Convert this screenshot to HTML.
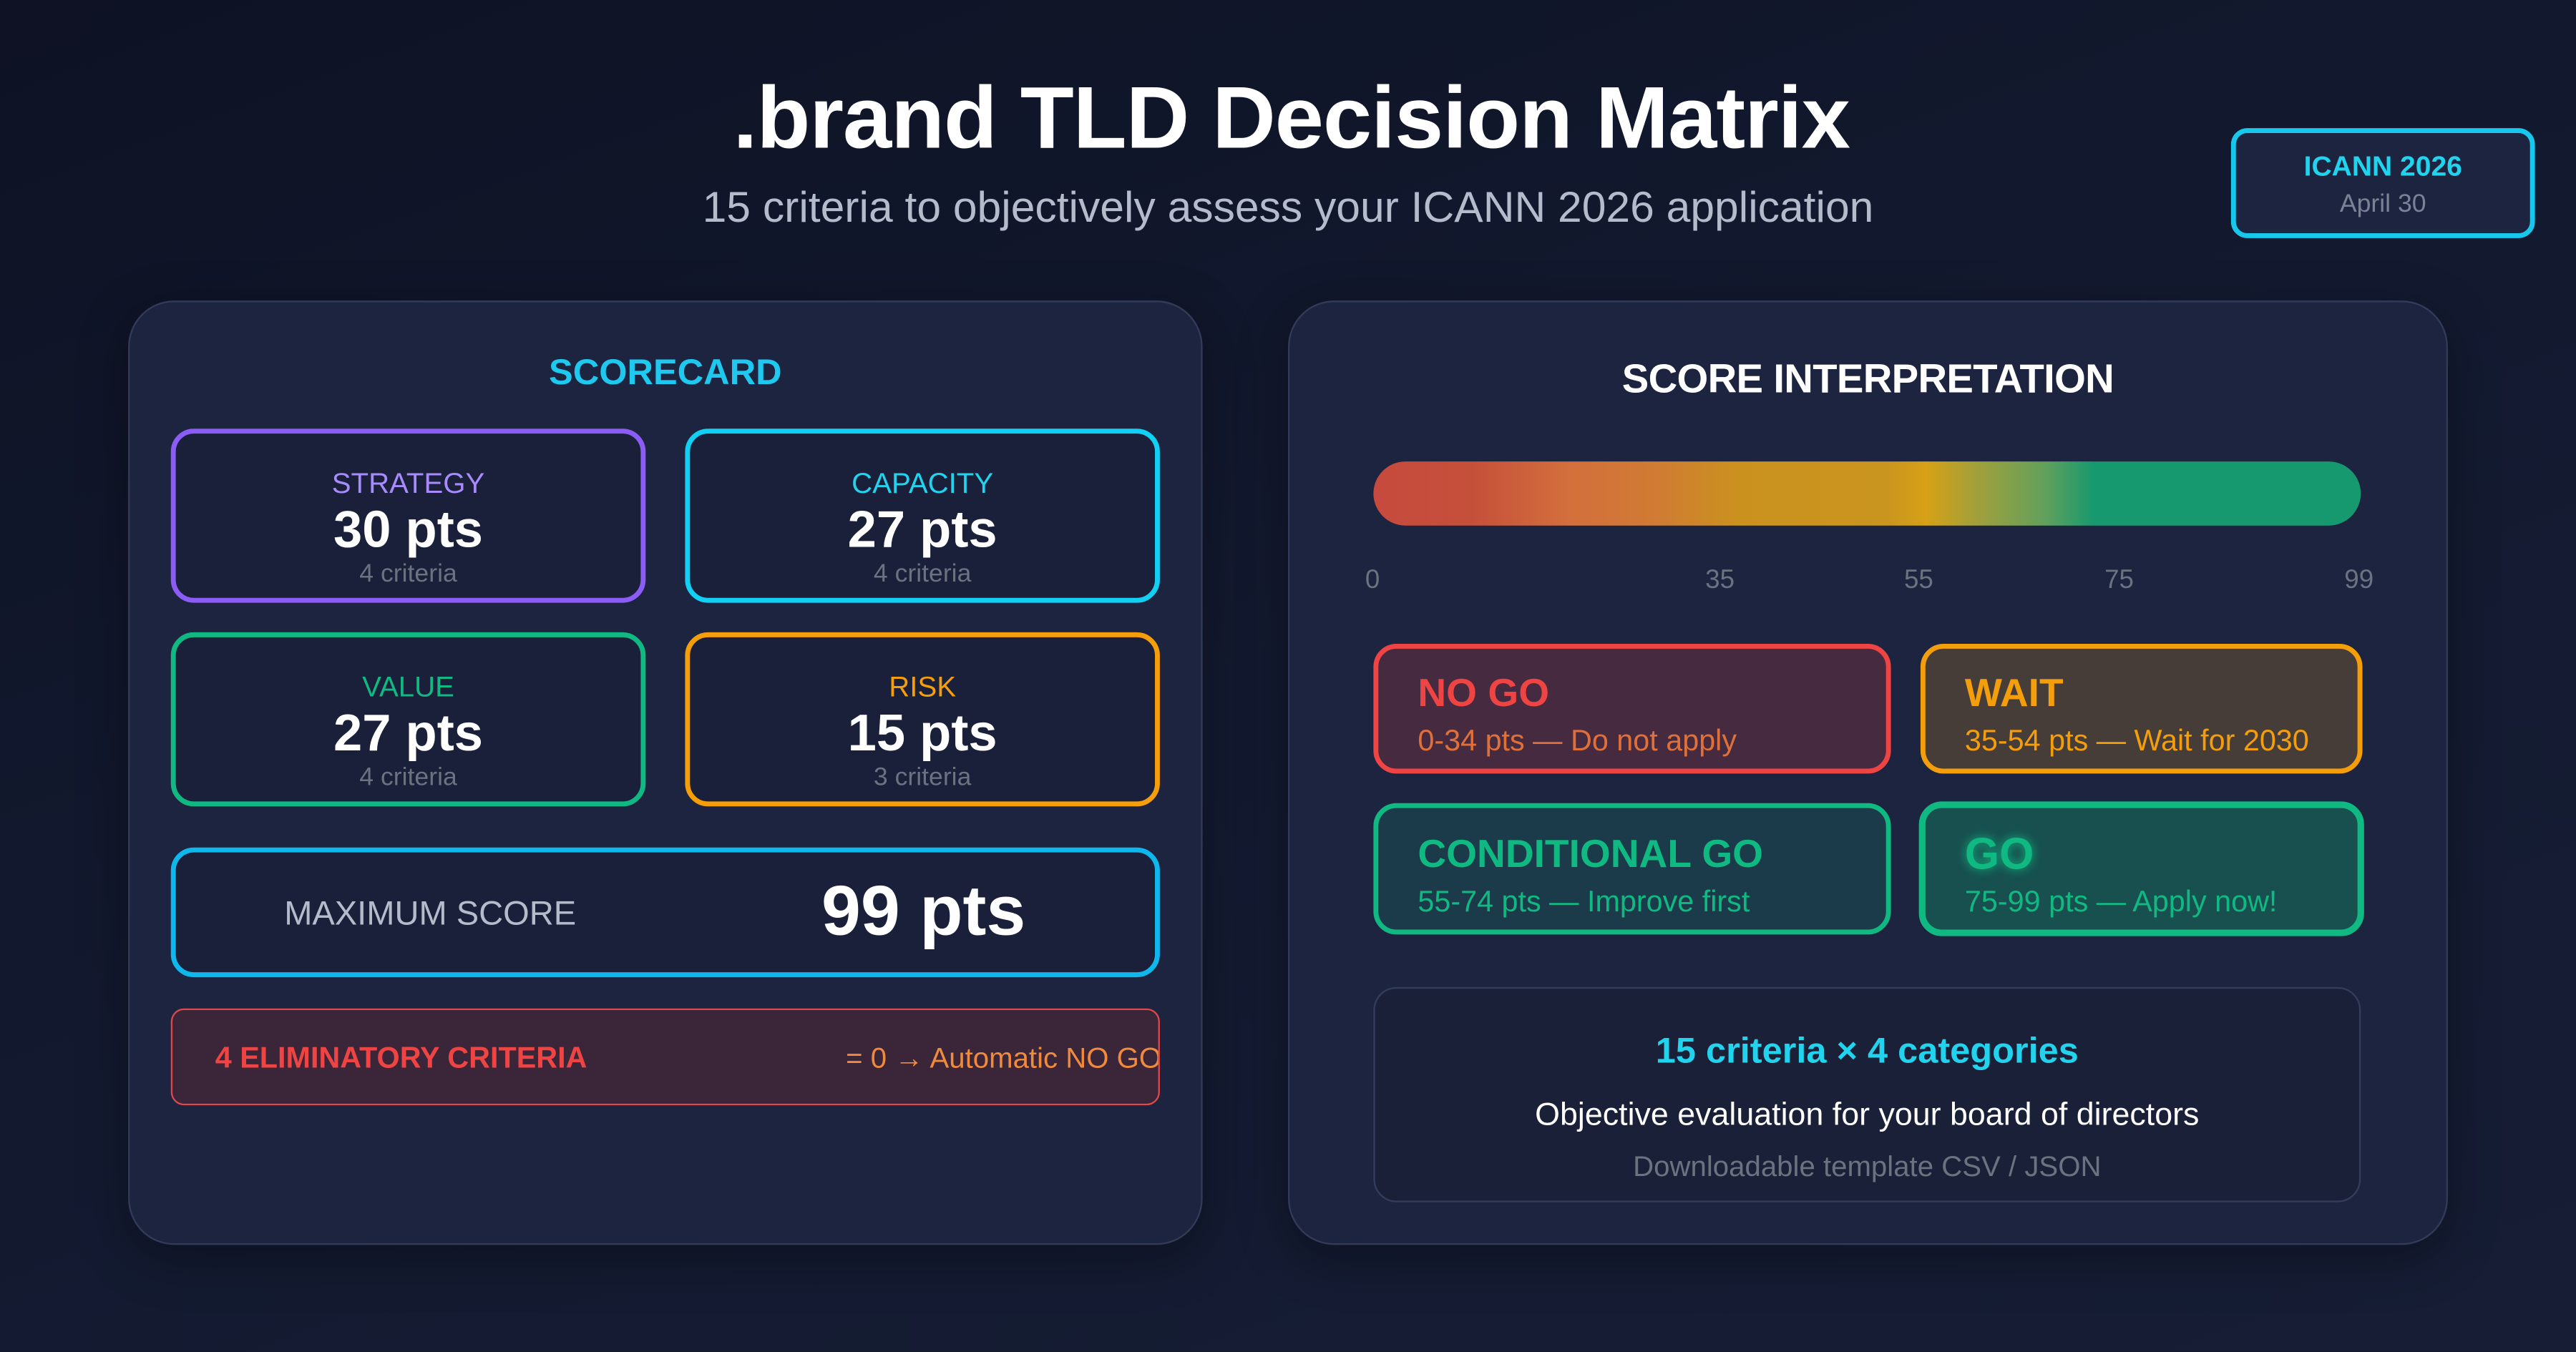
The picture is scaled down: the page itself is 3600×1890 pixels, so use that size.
<!DOCTYPE html>
<html><head><meta charset="utf-8"><style>
*{margin:0;padding:0;box-sizing:border-box}
html,body{width:3600px;height:1890px;overflow:hidden;background:#0f1426}
#w{position:absolute;left:0;top:0;width:1568px;height:823px;transform:scale(2.29592);transform-origin:0 0;
background:linear-gradient(160deg,#0e1224 0%,#131a30 50%,#161d35 100%);font-family:"Liberation Sans",sans-serif;color:#fff}
.a{position:absolute}
.c{position:absolute;text-align:center;white-space:nowrap}
.t{position:absolute;white-space:nowrap}
.panel{position:absolute;background:#1c2440;border:1.5px solid #323b58;border-radius:28px;box-shadow:0 8px 30px rgba(0,0,0,.35)}
.box{position:absolute;border:3px solid;border-radius:14px;background:#1a1f3a}
</style></head><body><div id="w">
<div class="c" style="left:0;width:1572px;top:42px;font-size:53.5px;font-weight:bold;letter-spacing:-0.5px">.brand TLD Decision Matrix</div>
<div class="c" style="left:0;width:1568px;top:111px;font-size:26.4px;color:#b4bccb">15 criteria to objectively assess your ICANN 2026 application</div>
<div class="a" style="left:1358px;top:78px;width:185px;height:67px;border:3px solid #18c8ec;border-radius:10px;background:#1c2440"></div>
<div class="c" style="left:1358px;width:185px;top:92px;font-size:17px;color:#22d3ee;font-weight:bold">ICANN 2026</div>
<div class="c" style="left:1358px;width:185px;top:116px;font-size:15.5px;color:#7b8296">April 30</div>

<div class="panel" style="left:78px;top:183px;width:654px;height:575px"></div>
<div class="c" style="left:78px;width:654px;top:214px;font-size:22px;color:#1ec8ee;font-weight:bold">SCORECARD</div>

<div class="box" style="left:104px;top:261px;width:289px;height:106px;border-color:#8b5cf6"></div>
<div class="box" style="left:417px;top:261px;width:289px;height:106px;border-color:#12d0f4"></div>
<div class="box" style="left:104px;top:385px;width:289px;height:106px;border-color:#10b981"></div>
<div class="box" style="left:417px;top:385px;width:289px;height:106px;border-color:#f59e0b"></div>
<div class="c" style="left:104px;width:289px;top:284px;font-size:17.5px;color:#a78bfa">STRATEGY</div>
<div class="c" style="left:104px;width:289px;top:304px;font-size:31.5px;font-weight:bold">30 pts</div>
<div class="c" style="left:104px;width:289px;top:341px;font-size:15.5px;color:#6b7280">4 criteria</div>
<div class="c" style="left:417px;width:289px;top:284px;font-size:17.5px;color:#22d3ee">CAPACITY</div>
<div class="c" style="left:417px;width:289px;top:304px;font-size:31.5px;font-weight:bold">27 pts</div>
<div class="c" style="left:417px;width:289px;top:341px;font-size:15.5px;color:#6b7280">4 criteria</div>
<div class="c" style="left:104px;width:289px;top:408px;font-size:17.5px;color:#10b981">VALUE</div>
<div class="c" style="left:104px;width:289px;top:428px;font-size:31.5px;font-weight:bold">27 pts</div>
<div class="c" style="left:104px;width:289px;top:465px;font-size:15.5px;color:#6b7280">4 criteria</div>
<div class="c" style="left:417px;width:289px;top:408px;font-size:17.5px;color:#f59e0b">RISK</div>
<div class="c" style="left:417px;width:289px;top:428px;font-size:31.5px;font-weight:bold">15 pts</div>
<div class="c" style="left:417px;width:289px;top:465px;font-size:15.5px;color:#6b7280">3 criteria</div>

<div class="box" style="left:104px;top:516px;width:602px;height:79px;border-color:#0fb8ec"></div>
<div class="t" style="left:173px;top:545px;font-size:20.5px;color:#b4bccb">MAXIMUM SCORE</div>
<div class="t" style="left:500px;top:531px;font-size:43px;font-weight:bold">99 pts</div>

<div class="a" style="left:104px;top:614px;width:602px;height:59px;border:1.5px solid #e0474a;border-radius:8px;background:#3b2539;overflow:hidden">
<div class="t" style="left:26px;top:19px;font-size:18px;color:#ef4444;font-weight:bold">4 ELIMINATORY CRITERIA</div>
<div class="t" style="right:-2px;top:19px;font-size:17.5px;color:#f08a3c">= 0 → Automatic NO GO</div>
</div>

<div class="panel" style="left:784px;top:183px;width:706px;height:575px"></div>
<div class="c" style="left:784px;width:706px;top:218px;font-size:24.5px;font-weight:bold;letter-spacing:-0.3px">SCORE INTERPRETATION</div>
<div class="a" style="left:836px;top:281px;width:601px;height:39px;border-radius:20px;background:linear-gradient(90deg,#c64a3e 0%,#c5503a 10%,#d3703c 20%,#d07a34 28%,#cb911f 37%,#c9951e 52%,#d6a017 56%,#a2a03a 61%,#62a05c 68%,#16996f 73%,#16996f 100%)"></div>
<div class="t" style="left:831px;top:345px;font-size:16px;color:#6b7280">0</div>
<div class="t" style="left:1038px;top:345px;font-size:16px;color:#6b7280">35</div>
<div class="t" style="left:1159px;top:345px;font-size:16px;color:#6b7280">55</div>
<div class="t" style="left:1281px;top:345px;font-size:16px;color:#6b7280">75</div>
<div class="t" style="left:1427px;top:345px;font-size:16px;color:#6b7280">99</div>

<div class="box" style="left:836px;top:392px;width:315px;height:79px;border-color:#ef4444;background:#452a40"></div>
<div class="box" style="left:1169px;top:392px;width:269px;height:79px;border-color:#f59e0b;background:#463d38"></div>
<div class="box" style="left:836px;top:489px;width:315px;height:80px;border-color:#10b981;background:#1b3a4a"></div>
<div class="box" style="left:1168px;top:488px;width:271px;height:82px;border:4px solid #10b981;background:#17504f"></div>
<div class="t" style="left:863px;top:409px;font-size:24px;font-weight:bold;color:#ef4444">NO GO</div>
<div class="t" style="left:863px;top:441px;font-size:18px;color:#e0703a">0-34 pts — Do not apply</div>
<div class="t" style="left:1196px;top:409px;font-size:24px;font-weight:bold;color:#f59e0b">WAIT</div>
<div class="t" style="left:1196px;top:441px;font-size:18px;color:#f59e0b">35-54 pts — Wait for 2030</div>
<div class="t" style="left:863px;top:507px;font-size:24px;font-weight:bold;color:#10b981">CONDITIONAL GO</div>
<div class="t" style="left:863px;top:539px;font-size:18px;color:#10b981">55-74 pts — Improve first</div>
<div class="t" style="left:1196px;top:505px;font-size:27px;font-weight:bold;color:#10b981;text-shadow:0 0 6px #10b981">GO</div>
<div class="t" style="left:1196px;top:539px;font-size:18px;color:#10b981">75-99 pts — Apply now!</div>

<div class="a" style="left:836px;top:601px;width:601px;height:131px;border:1.5px solid #343e5c;border-radius:14px;background:#1a2038"></div>
<div class="c" style="left:836px;width:601px;top:627px;font-size:22px;color:#22d3ee;font-weight:bold">15 criteria × 4 categories</div>
<div class="c" style="left:836px;width:601px;top:668px;font-size:19.5px">Objective evaluation for your board of directors</div>
<div class="c" style="left:836px;width:601px;top:700px;font-size:17.5px;color:#6b7280">Downloadable template CSV / JSON</div>
</div></body></html>
